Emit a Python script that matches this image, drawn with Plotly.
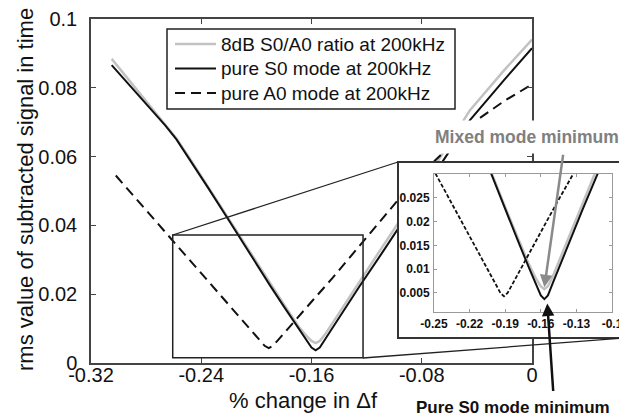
import plotly.graph_objects as go

# ---------------- data ----------------
X_S0 = [-0.305, -0.29, -0.275, -0.266, -0.258, -0.25, -0.235, -0.22, -0.205, -0.19, -0.18,
        -0.17, -0.164, -0.16, -0.157, -0.154, -0.15, -0.14, -0.125, -0.11, -0.09,
        -0.07, -0.045, -0.02, 0.0]
S0_PURE = [0.0866, 0.0799, 0.0732, 0.0690, 0.0650, 0.0602, 0.0509, 0.0415, 0.0318, 0.0225, 0.0164,
           0.0103, 0.0068, 0.0045, 0.0037, 0.0045, 0.0070, 0.0133, 0.0224, 0.0313, 0.0434,
           0.0556, 0.0706, 0.0824, 0.0915]
MIXED_8DB = [0.0884, 0.0810, 0.0737, 0.0694, 0.0653, 0.0605, 0.0512, 0.0418, 0.0322, 0.0230, 0.0170,
             0.0110, 0.0080, 0.0064, 0.0058, 0.0064, 0.0084, 0.0145, 0.0238, 0.0329, 0.0450,
             0.0578, 0.0735, 0.0852, 0.0940]
X_A0 = [-0.302, -0.29, -0.275, -0.25, -0.235, -0.22, -0.205, -0.198, -0.194, -0.191,
        -0.188, -0.184, -0.175, -0.16, -0.145, -0.1226, -0.098, -0.07, -0.04, -0.02, 0.0]
A0_PURE = [0.0545, 0.0490, 0.0423, 0.0306, 0.0238, 0.0170, 0.0102, 0.0068, 0.0050, 0.0043,
           0.0050, 0.0068, 0.0110, 0.0178, 0.0246, 0.0352, 0.0470, 0.0590, 0.0706, 0.0762,
           0.0810]

NAMES = ["8dB S0/A0 ratio at 200kHz", "pure S0 mode at 200kHz", "pure A0 mode at 200kHz"]

X_TICKS = [-0.32, -0.24, -0.16, -0.08, 0]
X_TICK_TEXT = ["-0.32", "-0.24", "-0.16", "-0.08", "0"]
Y_TICKS = [0, 0.02, 0.04, 0.06, 0.08, 0.1]
Y_TICK_TEXT = ["0", "0.02", "0.04", "0.06", "0.08", "0.1"]

INSET_X_TICKS = [-0.25, -0.22, -0.19, -0.16, -0.13, -0.1]
INSET_X_TICK_TEXT = ["-0.25", "-0.22", "-0.19", "-0.16", "-0.13", "-0.1"]
INSET_Y_TICKS = [0.005, 0.01, 0.015, 0.02, 0.025]
INSET_Y_TICK_TEXT = ["0.005", "0.01", "0.015", "0.02", "0.025"]

ZOOM_X = [-0.2607, -0.1226]
ZOOM_Y = [0.0015, 0.0372]

# ---------------- layout geometry (pixels) ----------------
W, H = 619, 419
L, R, T, B = 91, 0, 19, 56
PW, PH = W - L - R, H - T - B


def px(xp):
    return (xp - L) / PW


def py(yp):
    return (H - B - yp) / PH


FONT = "Liberation Sans, Arial, sans-serif"
GRAY = "#c2c2c2"
BLACK = "#111111"
AX = "#444444"

STYLES = [dict(color=GRAY, width=2.5),
          dict(color=BLACK, width=2),
          dict(color=BLACK, width=2, dash="10px,6px")]

fig = go.Figure()

# main curves
for xs, ys, name, st in [(X_S0, MIXED_8DB, NAMES[0], STYLES[0]),
                         (X_S0, S0_PURE, NAMES[1], STYLES[1]),
                         (X_A0, A0_PURE, NAMES[2], STYLES[2])]:
    fig.add_trace(go.Scatter(x=xs, y=ys, mode="lines", name=name, line=st,
                             showlegend=False, xaxis="x", yaxis="y"))

# white panel behind the inset
fig.add_trace(go.Scatter(x=[0, 1, 1, 0, 0], y=[0, 0, 1, 1, 0], mode="lines",
                         fill="toself", fillcolor="white", line=dict(width=0),
                         hoverinfo="skip", showlegend=False, xaxis="x2", yaxis="y2"))

# inset curves
fig.add_trace(go.Scatter(x=X_S0, y=MIXED_8DB, mode="lines", name=NAMES[0], showlegend=False,
                         line=dict(color=GRAY, width=2.5), xaxis="x3", yaxis="y3"))
fig.add_trace(go.Scatter(x=X_S0, y=S0_PURE, mode="lines", name=NAMES[1], showlegend=False,
                         line=dict(color=BLACK, width=2), xaxis="x3", yaxis="y3"))
fig.add_trace(go.Scatter(x=X_A0, y=A0_PURE, mode="lines", name=NAMES[2], showlegend=False,
                         line=dict(color=BLACK, width=1.8, dash="4px,2px"),
                         xaxis="x3", yaxis="y3"))

main_ax = dict(showgrid=False, zeroline=False, showline=True, linecolor=AX, linewidth=1.5,
               mirror="ticks", ticks="inside", ticklen=5, tickwidth=1.2, tickcolor=AX,
               tickfont=dict(family=FONT, size=20, color=BLACK))

inset_ax = dict(showgrid=False, zeroline=False, showline=True, linecolor="#9a9a9a", linewidth=1,
                mirror="ticks", ticks="inside", ticklen=3, tickwidth=1, tickcolor="#9a9a9a",
                ticklabeloverflow="allow",
                tickfont=dict(family=FONT, size=12, color=BLACK, weight="bold"))

fig.update_layout(
    width=W, height=H,
    margin=dict(l=L, r=R, t=T, b=B, pad=0, autoexpand=False),
    plot_bgcolor="white", paper_bgcolor="white",
    font=dict(family=FONT, color=BLACK),
    showlegend=False,
    xaxis=dict(domain=[0, px(532)], range=[-0.32, 0], tickvals=X_TICKS, ticktext=X_TICK_TEXT,
               anchor="y", ticklabelstandoff=-7, **main_ax),
    yaxis=dict(domain=[0, 1], range=[0, 0.1], tickvals=Y_TICKS, ticktext=Y_TICK_TEXT,
               anchor="x", ticklabelstandoff=8, **main_ax),
    xaxis2=dict(domain=[px(398), 1], range=[0, 1], visible=False, anchor="y2"),
    yaxis2=dict(domain=[py(338), py(162)], range=[0, 1], visible=False, anchor="x2"),
    xaxis3=dict(domain=[px(434), px(612)], range=[-0.25, -0.1], tickvals=INSET_X_TICKS,
                ticktext=INSET_X_TICK_TEXT, anchor="y3", ticklabelstandoff=1, **inset_ax),
    yaxis3=dict(domain=[py(312), py(174)], range=[0.001, 0.03], tickvals=INSET_Y_TICKS,
                ticktext=INSET_Y_TICK_TEXT, anchor="x3", ticklabelstandoff=1, **inset_ax),
)

# zoom rectangle, inset border and connectors
fig.add_shape(type="rect", xref="x", yref="y", x0=ZOOM_X[0], x1=ZOOM_X[1], y0=ZOOM_Y[0],
              y1=ZOOM_Y[1], line=dict(color="#222222", width=1.5), layer="above")
fig.add_shape(type="rect", xref="paper", yref="paper", x0=px(398), x1=px(625), y0=py(338),
              y1=py(162), line=dict(color="#333333", width=2), layer="above")
fig.add_shape(type="line", xref="paper", yref="paper", x0=px(172.7), y0=py(235), x1=px(398),
              y1=py(162), line=dict(color="#222222", width=1.3), layer="above")
fig.add_shape(type="line", xref="paper", yref="paper", x0=px(363), y0=py(358), x1=px(625),
              y1=py(338), line=dict(color="#222222", width=1.3), layer="above")

# legend (drawn by hand to match the reference box)
fig.add_shape(type="rect", xref="paper", yref="paper", x0=px(167), x1=px(455), y0=py(109),
              y1=py(29), line=dict(color="#222222", width=1.5), fillcolor="white",
              layer="above")
for i, (name, st) in enumerate(zip(NAMES, STYLES)):
    yrow = 44 + 24.5 * i
    fig.add_shape(type="line", xref="paper", yref="paper", x0=px(175), x1=px(216),
                  y0=py(yrow), y1=py(yrow), line=st, layer="above")
    fig.add_annotation(text=name, xref="paper", yref="paper", x=px(219), y=py(yrow),
                       xanchor="left", yanchor="middle", showarrow=False,
                       font=dict(family=FONT, size=19, color=BLACK))

# axis titles
fig.add_annotation(text="% change in Δf", xref="paper", yref="paper", x=px(303), y=py(400),
                   xanchor="center", yanchor="middle", showarrow=False,
                   font=dict(family=FONT, size=22, color=BLACK))
fig.add_annotation(text="rms value of subtracted signal in time", xref="paper", yref="paper",
                   x=px(25), y=py(190), xanchor="center", yanchor="middle", textangle=-90,
                   showarrow=False, font=dict(family=FONT, size=22, color=BLACK))

# annotations with arrows
fig.add_annotation(text="<b>Mixed mode minimum</b>", xref="paper", yref="paper",
                   x=px(527), y=py(137), xanchor="center", yanchor="middle",
                   showarrow=False, bgcolor="white", borderpad=6,
                   font=dict(family=FONT, size=17.5, color="#808080"))
fig.add_annotation(text="", xref="x3", yref="y3", x=-0.157, y=0.0062,
                   axref="pixel", ayref="pixel", ax=19, ay=-134, showarrow=True,
                   arrowhead=2, arrowsize=1, arrowwidth=2.5, arrowcolor="#8a8a8a")
fig.add_annotation(text="<b>Pure S0 mode minimum</b>", xref="paper", yref="paper",
                   x=px(512.5), y=py(407), xanchor="center", yanchor="middle",
                   showarrow=False, font=dict(family=FONT, size=17, color=BLACK))
fig.add_annotation(text="", xref="paper", yref="paper", x=px(547.3), y=py(303.5),
                   ax=6, ay=89, showarrow=True, arrowhead=2, arrowsize=1, arrowwidth=2.5,
                   arrowcolor=BLACK)

fig.write_html("out.html")
